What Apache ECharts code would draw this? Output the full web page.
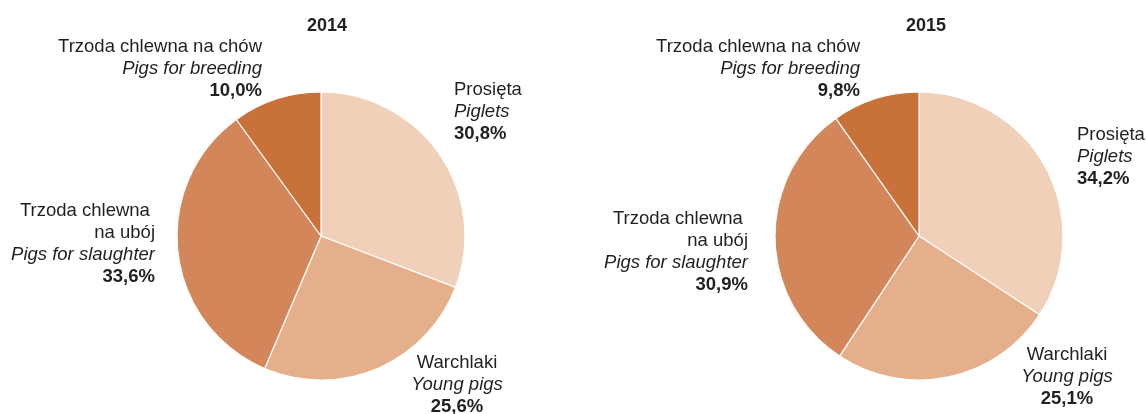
<!DOCTYPE html>
<html>
<head>
<meta charset="utf-8">
<script src="https://cdn.jsdelivr.net/npm/echarts@6/dist/echarts.min.js"></script>
<style>
  html, body { margin: 0; padding: 0; background: #fff; }
  #chart { width: 1147px; height: 414px; }
</style>
</head>
<body>
<div id="chart"></div>
<script>
let chartDom = document.getElementById('chart');
let myChart = echarts.init(chartDom);

// data
let years = ['2014', '2015'];
let namesPl = ['Prosięta', 'Warchlaki', 'Trzoda chlewna \nna ubój', 'Trzoda chlewna na chów'];
let namesEn = ['Piglets', 'Young pigs', 'Pigs for slaughter', 'Pigs for breeding'];
let share2014 = [30.8, 25.6, 33.6, 10.0];
let share2015 = [34.2, 25.1, 30.9, 9.8];

let colors = ['#F0D0B9', '#E4AF8A', '#D3865A', '#C87239'];

// label anchors: [x, y(top), align]
let labelPos2014 = [
    [454, 79, 'left'],
    [457, 352, 'center'],
    [155, 200, 'right'],
    [262, 36, 'right']
];
let labelPos2015 = [
    [1077, 124, 'left'],
    [1067, 344, 'center'],
    [748, 208, 'right'],
    [860, 36, 'right']
];

const FONT = 18.5;
const LH = 22;

function fmt(v) {
    return v.toFixed(1).replace('.', ',') + '%';
}

function makeSeries(values, center, pos) {
    return {
        type: 'pie',
        center: center,
        radius: 144,
        startAngle: 90,
        clockwise: true,
        silent: true,
        label: {
            show: true,
            overflow: 'none',
            formatter: function (p) {
                let i = p.dataIndex;
                let pl = namesPl[i].split('\n').map(s => '{pl|' + s + '}').join('\n');
                return pl + '\n{en|' + namesEn[i] + '}\n{pct|' + fmt(values[i]) + '}';
            },
            rich: {
                pl: { fontSize: FONT, color: '#231f20', lineHeight: LH, fontFamily: 'Liberation Sans' },
                en: { fontSize: FONT, color: '#231f20', lineHeight: LH, fontStyle: 'italic', fontFamily: 'Liberation Sans' },
                pct: { fontSize: FONT, color: '#231f20', lineHeight: LH, fontWeight: 'bold', fontFamily: 'Liberation Sans' }
            }
        },
        labelLine: { show: false },
        labelLayout: function (params) {
            let p = pos[params.dataIndex];
            return { x: p[0], y: p[1], align: p[2], verticalAlign: 'top' };
        },
        itemStyle: { borderColor: '#ffffff', borderWidth: 1.2 },
        data: values.map((v, i) => ({
            name: namesEn[i],
            value: v,
            itemStyle: { color: colors[i] }
        }))
    };
}

let option = {
    animation: false,
    title: [
        {
            text: years[0], left: 322, top: 12, textAlign: 'center',
            textStyle: { fontSize: 18, fontWeight: 'bold', color: '#231f20', fontFamily: 'Liberation Sans' }
        },
        {
            text: years[1], left: 921, top: 12, textAlign: 'center',
            textStyle: { fontSize: 18, fontWeight: 'bold', color: '#231f20', fontFamily: 'Liberation Sans' }
        }
    ],
    series: [
        makeSeries(share2014, [321, 236], labelPos2014),
        makeSeries(share2015, [919, 236], labelPos2015)
    ]
};

myChart.setOption(option);
</script>
</body>
</html>
